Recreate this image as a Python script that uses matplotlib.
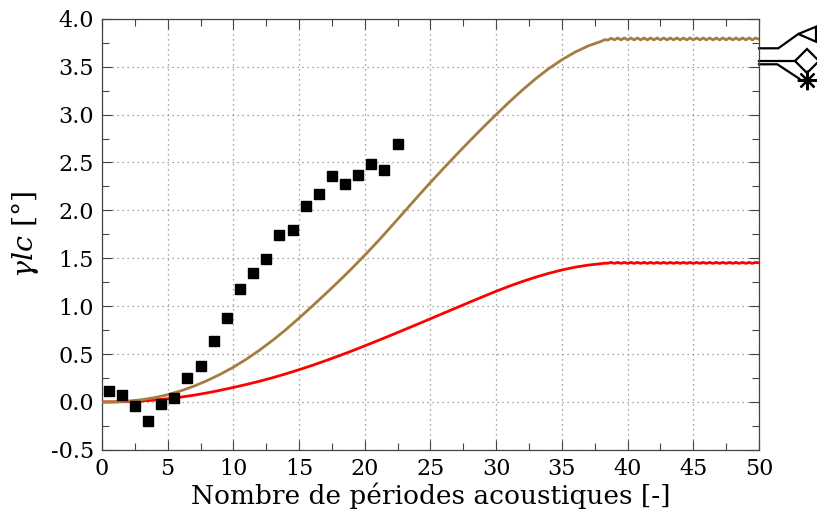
import numpy as np
import matplotlib
matplotlib.use("Agg")
import matplotlib.pyplot as plt
from matplotlib.patches import Polygon
from matplotlib.ticker import MultipleLocator

plt.rcParams["font.family"] = "DejaVu Serif"
plt.rcParams["mathtext.fontset"] = "dejavuserif"

# measured points (black squares)
meas_x = [0.5, 1.5, 2.5, 3.5, 4.5, 5.5, 6.5, 7.5, 8.5, 9.5, 10.5, 11.5,
          12.5, 13.5, 14.5, 15.5, 16.5, 17.5, 18.5, 19.5, 20.5, 21.5, 22.5]
meas_y = [0.11, 0.07, -0.04, -0.20, -0.02, 0.04, 0.25, 0.38, 0.64, 0.88, 1.18, 1.35,
          1.49, 1.74, 1.80, 2.05, 2.17, 2.36, 2.28, 2.37, 2.48, 2.42, 2.69]

# model curves: rise sampled every period, plateau every quarter period
rise_x = np.arange(0, 39)
plateau_x = np.arange(38.25, 50.01, 0.25)

brown_rise = [0.0, 0.002, 0.009, 0.023, 0.045, 0.076, 0.116, 0.165, 0.223, 0.289, 0.363, 0.448,
              0.542, 0.645, 0.756, 0.876, 1.0, 1.127, 1.257, 1.392, 1.532, 1.678, 1.83, 1.985,
              2.14, 2.292, 2.44, 2.585, 2.727, 2.866, 3.001, 3.132, 3.257, 3.374, 3.48, 3.572,
              3.652, 3.717, 3.765]
brown_plateau = [3.782, 3.778, 3.797, 3.78, 3.80, 3.78, 3.80, 3.78, 3.80, 3.78,
                 3.80, 3.78, 3.80, 3.78, 3.80, 3.78, 3.80, 3.78, 3.80, 3.78,
                 3.80, 3.78, 3.80, 3.78, 3.80, 3.78, 3.80, 3.78, 3.80, 3.78,
                 3.80, 3.78, 3.80, 3.78, 3.80, 3.78, 3.80, 3.78, 3.80, 3.78,
                 3.80, 3.78, 3.80, 3.78, 3.80, 3.78, 3.80, 3.785]

red_rise = [0.0, 0.001, 0.004, 0.01, 0.02, 0.034, 0.051, 0.071, 0.095, 0.122, 0.152, 0.183,
            0.217, 0.254, 0.294, 0.337, 0.382, 0.43, 0.48, 0.532, 0.586, 0.641, 0.697, 0.754,
            0.811, 0.869, 0.927, 0.985, 1.043, 1.10, 1.156, 1.209, 1.258, 1.303, 1.343, 1.378,
            1.407, 1.429, 1.444]
red_plateau = [1.449, 1.449, 1.457, 1.447, 1.457, 1.447, 1.457, 1.447, 1.457, 1.447,
               1.457, 1.447, 1.457, 1.447, 1.457, 1.447, 1.457, 1.447, 1.457, 1.447,
               1.457, 1.447, 1.457, 1.447, 1.457, 1.447, 1.457, 1.447, 1.457, 1.447,
               1.457, 1.447, 1.457, 1.447, 1.457, 1.447, 1.457, 1.447, 1.457, 1.447,
               1.457, 1.447, 1.457, 1.447, 1.457, 1.447, 1.457, 1.452]

x_ticks = [0, 5, 10, 15, 20, 25, 30, 35, 40, 45, 50]
y_ticks = [-0.5, 0.0, 0.5, 1.0, 1.5, 2.0, 2.5, 3.0, 3.5, 4.0]

curve_x = np.concatenate([rise_x, plateau_x])
brown_y = brown_rise + brown_plateau
red_y = red_rise + red_plateau

fig = plt.figure(figsize=(8.17, 5.18), dpi=100)
ax = fig.add_axes([0.1248, 0.1315, 0.8042, 0.8322])

ax.plot(curve_x, red_y, color="#ff0000", linewidth=2.0, zorder=3)
ax.plot(curve_x, brown_y, color="#a67c40", linewidth=2.0, zorder=4)
ax.plot(meas_x, meas_y, "s", color="black", markersize=7.5, zorder=5)

ax.set_xlim(0, 50)
ax.set_ylim(-0.5, 4.0)
ax.set_xticks(x_ticks)
ax.set_yticks(y_ticks)
ax.set_xticklabels([str(v) for v in x_ticks])
ax.set_yticklabels([f"{v:.1f}" for v in y_ticks])
ax.xaxis.set_minor_locator(MultipleLocator(2.5))
ax.yaxis.set_minor_locator(MultipleLocator(0.25))
ax.tick_params(which="both", direction="in", top=True, right=True,
               labelsize=16, color="#444444", width=0.8)
ax.tick_params(which="major", length=7, pad=6)
ax.tick_params(which="minor", length=5)
ax.grid(which="major", linestyle=(0, (1, 3)), color="#888888", linewidth=0.9)
for s in ax.spines.values():
    s.set_color("#444444")
    s.set_linewidth(0.9)

ax.set_xlabel("Nombre de périodes acoustiques [-]", fontsize=19, labelpad=2)
ax.set_ylabel(r"$\gamma lc$ [°]", fontsize=20.5, labelpad=7)

# key symbols on the right edge
kw = dict(transform=ax.transAxes, clip_on=False, color="black", linewidth=1.6)
ax.plot([1.0, 1.0294, 1.0598], [0.9316, 0.9316, 0.9647], **kw)
ax.add_patch(Polygon([[1.0598, 0.9647], [1.0868, 0.9817], [1.0868, 0.9469]],
                     closed=True, facecolor="white", edgecolor="black", linewidth=1.6,
                     transform=ax.transAxes, clip_on=False))
ax.plot([1.0, 1.0583], [0.9028, 0.9028], **kw)
ax.plot([1.0726], [0.9028], marker="D", markersize=12, markerfacecolor="white",
        markeredgecolor="black", markeredgewidth=1.6, transform=ax.transAxes, clip_on=False)
ax.plot([1.0, 1.0279, 1.0613], [0.8945, 0.8945, 0.8611], **kw)
ax.plot([1.0726], [0.858], marker=(8, 2, 0), markersize=14, color="black",
        markeredgewidth=1.6, transform=ax.transAxes, clip_on=False)

fig.savefig("out.png", dpi=100)
